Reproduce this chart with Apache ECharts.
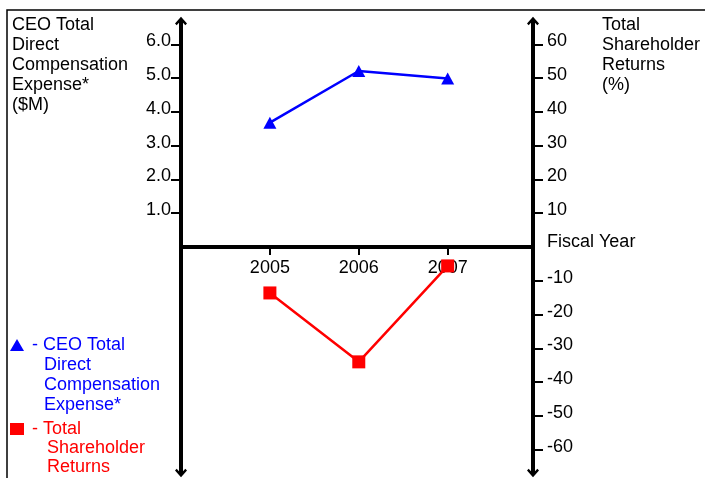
<!DOCTYPE html>
<html><head><meta charset="utf-8">
<script src="https://cdn.jsdelivr.net/npm/echarts@6/dist/echarts.min.js"></script>
<style>html,body{margin:0;padding:0;background:#fff}#c{width:705px;height:478px}</style>
</head><body><div id="c"></div>
<script>
// ---- data ----
const years = ['2005', '2006', '2007'];
const ceoComp = [3.68, 5.21, 4.99];          // $M
const tsr = [-13.6, -34.0, -5.6];            // %
const leftTicks = [1, 2, 3, 4, 5, 6];
const rightTicks = [60, 50, 40, 30, 20, 10, -10, -20, -30, -40, -50, -60];
const leftTitle = ['CEO Total', 'Direct', 'Compensation', 'Expense*', '($M)'];
const rightTitle = ['Total', 'Shareholder', 'Returns', '(%)'];
const xAxisName = 'Fiscal Year';
const seriesNames = ['CEO Total Direct Compensation Expense*', 'Total Shareholder Returns'];
const legendFirst = ['- CEO Total', '- Total'];
const legendRest = [['Direct', 'Compensation', 'Expense*'], ['Shareholder', 'Returns']];

// ---- styling ----
const FONT = '"Liberation Sans", Arial, sans-serif';
const BLUE = '#0000ff', RED = '#ff0000';
const leftMax = 6.69, rightMax = 66.9;
const GRID_H = 452;
const chevron = 'path://M5,0 L10,5.5 L8.6,6.9 L5,3 L1.4,6.9 L0,5.5 Z';

const chart = echarts.init(document.getElementById('c'), null, {renderer: 'canvas'});

const yAxisCommon = {
  type: 'value',
  splitLine: {show: false},
  axisLine: {show: true, onZero: false, lineStyle: {color: '#000', width: 4},
             symbol: [chevron, chevron], symbolSize: [12, 9]},
  axisTick: {show: true, length: 10, lineStyle: {color: '#000', width: 2}},
  axisLabel: {color: '#000', fontSize: 18, fontFamily: FONT, verticalAlign: 'bottom', lineHeight: 6}
};

chart.setOption({
  animation: false,
  backgroundColor: '#fff',
  grid: {left: 181, top: 21, width: 352, height: GRID_H, containLabel: false, outerBoundsMode: 'none'},
  xAxis: {
    type: 'value', min: 0, max: 3.96, position: 'bottom', offset: -GRID_H / 2,
    splitLine: {show: false},
    axisLine: {show: true, onZero: false, lineStyle: {color: '#000', width: 4}},
    axisTick: {show: true, customValues: years.map((y, i) => i + 1), length: 8, lineStyle: {color: '#000', width: 2}},
    axisLabel: {customValues: years.map((y, i) => i + 1), formatter: v => years[v - 1] || '',
                color: '#000', fontSize: 18, fontFamily: FONT, margin: 12},
    name: xAxisName, nameLocation: 'end', nameGap: 14,
    nameTextStyle: {color: '#000', fontSize: 18, fontFamily: FONT, verticalAlign: 'bottom', lineHeight: 9}
  },
  yAxis: [
    Object.assign({}, yAxisCommon, {
      position: 'left', min: -leftMax, max: leftMax,
      axisTick: Object.assign({}, yAxisCommon.axisTick, {customValues: leftTicks}),
      axisLabel: Object.assign({}, yAxisCommon.axisLabel, {customValues: leftTicks, margin: 10, formatter: v => v.toFixed(1)})
    }),
    Object.assign({}, yAxisCommon, {
      position: 'right', min: -rightMax, max: rightMax,
      axisTick: Object.assign({}, yAxisCommon.axisTick, {customValues: rightTicks}),
      axisLabel: Object.assign({}, yAxisCommon.axisLabel, {customValues: rightTicks, margin: 14, formatter: v => String(v)})
    })
  ],
  legend: [
    {data: [seriesNames[0]], left: 10, top: 335, padding: 0, icon: 'triangle', itemWidth: 14, itemHeight: 12,
     formatter: () => legendFirst[0], selectedMode: false,
     textStyle: {color: BLUE, fontSize: 18, fontFamily: FONT, lineHeight: 20, padding: [0, 0, 0, 3]}},
    {data: [seriesNames[1]], left: 10, top: 419, padding: 0, icon: 'rect', itemWidth: 14, itemHeight: 12,
     formatter: () => legendFirst[1], selectedMode: false,
     textStyle: {color: RED, fontSize: 18, fontFamily: FONT, lineHeight: 20, padding: [0, 0, 0, 3]}}
  ],
  graphic: [
    {type: 'rect', shape: {x: 7, y: 10, width: 900, height: 800}, style: {fill: 'none', stroke: '#000', lineWidth: 1.5}, z: -1, silent: true},
    {type: 'text', x: 12, y: 15, style: {text: leftTitle.join('\n'), fill: '#000', fontSize: 18, fontFamily: FONT, lineHeight: 20, verticalAlign: 'top'}},
    {type: 'text', x: 602, y: 15, style: {text: rightTitle.join('\n'), fill: '#000', fontSize: 18, fontFamily: FONT, lineHeight: 20, verticalAlign: 'top'}},
    {type: 'text', x: 44, y: 355, style: {text: legendRest[0].join('\n'), fill: BLUE, fontSize: 18, fontFamily: FONT, lineHeight: 20, verticalAlign: 'top'}},
    {type: 'text', x: 47, y: 438, style: {text: legendRest[1].join('\n'), fill: RED, fontSize: 18, fontFamily: FONT, lineHeight: 19.5, verticalAlign: 'top'}}
  ],
  series: [
    {name: seriesNames[0], type: 'line', yAxisIndex: 0,
     data: years.map((y, i) => [i + 1, ceoComp[i]]),
     symbol: 'triangle', symbolSize: [13, 12], showAllSymbol: true,
     lineStyle: {color: BLUE, width: 2.5}, itemStyle: {color: BLUE}, z: 5},
    {name: seriesNames[1], type: 'line', yAxisIndex: 1,
     data: years.map((y, i) => [i + 1, tsr[i]]),
     symbol: 'rect', symbolSize: 13, showAllSymbol: true,
     lineStyle: {color: RED, width: 2.5}, itemStyle: {color: RED}, z: 5}
  ]
});
</script></body></html>
